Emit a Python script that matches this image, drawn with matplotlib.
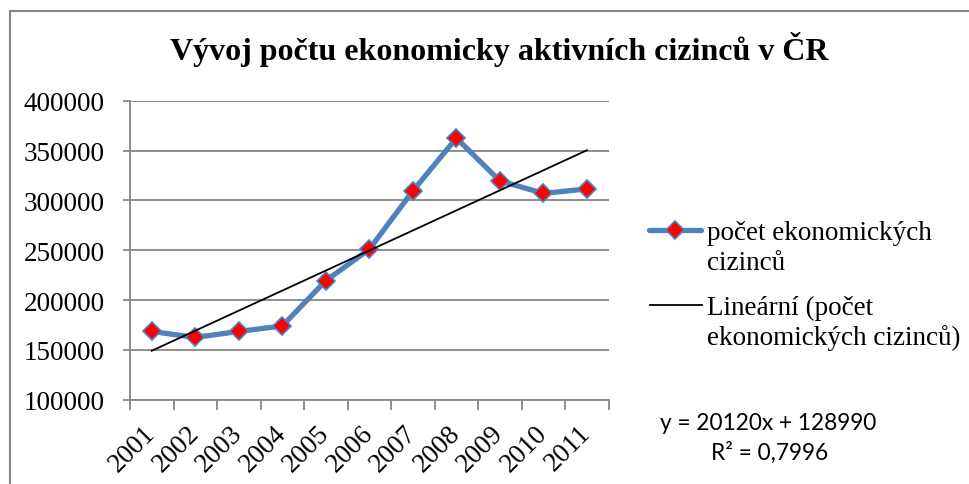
import matplotlib
matplotlib.use("Agg")
import matplotlib.pyplot as plt
from matplotlib.lines import Line2D
import numpy as np

years = ["2001", "2002", "2003", "2004", "2005", "2006", "2007", "2008", "2009", "2010", "2011"]
values = [168500, 162500, 168500, 174000, 219500, 251000, 309500, 362500, 319500, 307000, 311500]
trend_slope = 20120
trend_intercept = 128990
r_squared = "0,7996"
y_ticks = [100000, 150000, 200000, 250000, 300000, 350000, 400000]

title = "Vývoj počtu ekonomicky aktivních cizinců v ČR"
series_label = ["počet ekonomických", "cizinců"]
trend_label = ["Lineární (počet", "ekonomických cizinců)"]

W, H = 970, 485
fig = plt.figure(figsize=(W / 100, H / 100), dpi=100)
serif = ["Liberation Serif", "DejaVu Serif"]
FS = 19.5

def fx(px):
    return px / W

def fy(py):
    return 1 - py / H

ax = fig.add_axes([fx(130), fy(400.7), (608.7 - 130) / W, (400.7 - 101.7) / H])

x = np.arange(len(years))
trend = trend_slope * (x + 1) + trend_intercept

grid_c = "#868686"
blue = "#4F81BD"
mk = dict(marker="D", markersize=9, markerfacecolor="#FF0000",
          markeredgecolor=blue, markeredgewidth=1.2)

ax.plot(x, values, color=blue, lw=3.8, zorder=3, solid_capstyle="round", **mk)
ax.plot(x, trend, color="black", lw=1.3, zorder=4)

ax.set_xlim(-0.5, len(years) - 0.5)
ax.set_ylim(100000, 400000)
ax.set_yticks(y_ticks)
ax.set_yticklabels([str(v) for v in y_ticks], fontfamily=serif, fontsize=FS)
ax.set_xticks(x)
ax.set_xticklabels(years, fontfamily=serif, fontsize=FS, rotation=45,
                   ha="right", va="center", rotation_mode="anchor")
ax.set_xticks(np.arange(-0.5, len(years)), minor=True)
ax.tick_params(axis="x", which="major", length=0, pad=21)
ax.tick_params(axis="x", which="minor", length=7, width=1.3, color=grid_c, direction="out")
ax.tick_params(axis="y", length=5, width=1.3, color=grid_c, pad=13)

ax.grid(axis="y", color=grid_c, lw=1.3, zorder=0)
ax.set_axisbelow(True)
for s in ["top", "right"]:
    ax.spines[s].set_visible(False)
for s in ["left", "bottom"]:
    ax.spines[s].set_color(grid_c)
    ax.spines[s].set_linewidth(1.3)

# legend (Excel style: handle aligned with first text line)
fig.add_artist(Line2D([fx(649), fx(701)], [fy(231), fy(231)], transform=fig.transFigure,
                      color=blue, lw=3.8, solid_capstyle="round"))
fig.add_artist(Line2D([fx(675)], [fy(231)], transform=fig.transFigure, linestyle="none", **mk))
fig.add_artist(Line2D([fx(650), fx(702)], [fy(306), fy(306)], transform=fig.transFigure,
                      color="black", lw=1.3))
for label, base in [(series_label, 240), (trend_label, 315)]:
    for i, line in enumerate(label):
        fig.text(fx(707), fy(base + 30 * i), line, ha="left", va="baseline",
                 fontfamily=serif, fontsize=FS)

fig.text(fx(499), fy(60), title, ha="center", va="baseline",
         fontfamily=serif, fontweight="bold", fontsize=23)

fig.text(fx(768), fy(430), f"y = {trend_slope}x + {trend_intercept}",
         ha="center", va="baseline", fontfamily=["Lato", "DejaVu Sans"], fontsize=16.3)
fig.text(fx(770), fy(460), f"R² = {r_squared}",
         ha="center", va="baseline", fontfamily=["Lato", "DejaVu Sans"], fontsize=16.3)

# chart area frame (top and left edges visible)
fig.add_artist(Line2D([fx(10), 1], [fy(11.5), fy(11.5)], transform=fig.transFigure,
                      color=grid_c, lw=1.5))
fig.add_artist(Line2D([fx(10), fx(10)], [0, fy(11.5)], transform=fig.transFigure,
                      color=grid_c, lw=1.5))

fig.savefig("out.png", dpi=100, facecolor="white")
